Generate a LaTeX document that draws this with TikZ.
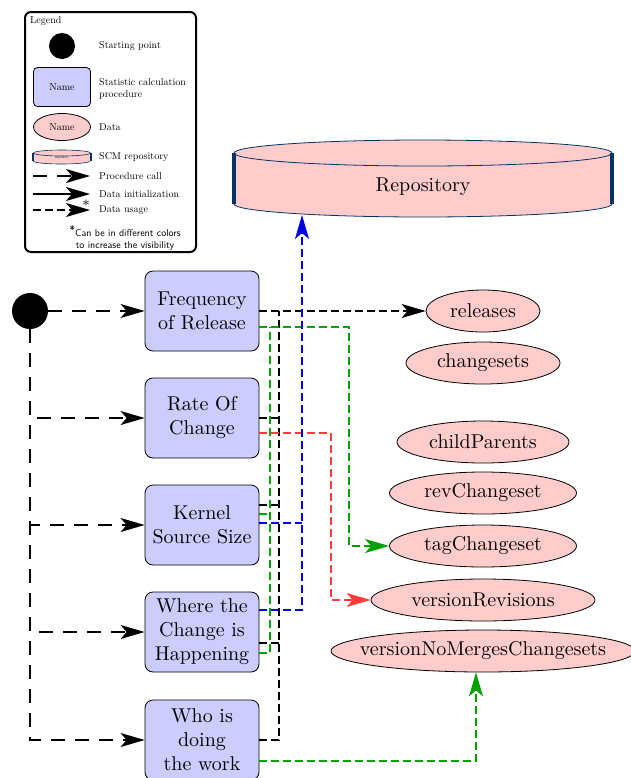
\documentclass[tikz,border=0pt]{standalone}
\usetikzlibrary{arrows.meta,shapes.geometric}

\begin{document}
\begin{tikzpicture}[x=0.5pt,y=-0.5pt,
    proc/.style={draw, rounded corners=4pt, fill=procblue, text width=53pt, align=center, minimum height=40pt, inner sep=2pt},
    data/.style={ellipse, draw, fill=datapink, inner xsep=-8pt, inner ysep=0pt, minimum height=21pt},
    startpt/.style={circle, fill=black, inner sep=0pt},
    call/.style={line width=0.6pt, dash pattern=on 7pt off 5pt, -{Stealth[length=12pt,width=7pt,inset=3pt]}},
    init/.style={line width=0.6pt, -{Stealth[length=12pt,width=7pt,inset=3pt]}},
    uses/.style={line width=0.6pt, dash pattern=on 4pt off 2pt, -{Stealth[length=12pt,width=7pt,inset=3pt]}},
    joins/.style={line width=0.6pt, dash pattern=on 4pt off 2pt},
    legtext/.style={anchor=west, scale=0.5, align=left, inner sep=1pt}]
            \definecolor{procblue}{RGB}{204,204,255}
            \definecolor{datapink}{RGB}{255,204,204}
            \definecolor{repoline}{RGB}{0,51,102}
            \definecolor{usegreen}{RGB}{0,160,0}
            \definecolor{usered}{RGB}{255,60,60}
            \definecolor{useblue}{RGB}{0,0,230}

            \useasboundingbox (0,0) rectangle (631,778);

            % legend
            \draw[line width=1pt, rounded corners=3pt] (25,12) rectangle (196,252);
            \node[legtext] at (29,21) {Legend};
            \node[startpt, minimum size=13pt] (legstart) at (62,46) {};
            \node[draw, rounded corners=2pt, fill=procblue, minimum width=28.5pt, minimum height=19.5pt, inner sep=0pt] (legproc) at (62,87) {\scalebox{0.5}{Name}};
            \node[data, minimum width=28.5pt, minimum height=13.5pt] (legdata) at (62,127) {\scalebox{0.5}{Name}};
            \fill[datapink] (33,153) -- (33,161) arc[start angle=180, end angle=360, x radius=14.25pt, y radius=1.5pt] -- (91,153) -- cycle;
            \draw[repoline, line width=0.3pt] (33,161) arc[start angle=180, end angle=360, x radius=14.25pt, y radius=1.5pt];
            \filldraw[fill=datapink, draw=repoline, line width=0.3pt] (62,153) ellipse [x radius=14.25pt, y radius=1.5pt];
            \draw[repoline, line width=1pt] (33,153) -- (33,161) (91,153) -- (91,161);
            \node[scale=0.15] at (62,158) {Repository};
            \draw[call] (33,176) -- (90,176);
            \draw[init] (33,194) -- (90,194);
            \draw[uses] (33,210) -- (90,210);
            \node[font=\scriptsize] at (86,205) {*};
            \node[legtext] at (98,46) {Starting point};
            \node[legtext] at (98,89) {Statistic calculation\\procedure};
            \node[legtext] at (98,127) {Data};
            \node[legtext] at (98,157) {SCM repository};
            \node[legtext] at (98,176) {Procedure call};
            \node[legtext] at (98,194) {Data initialization};
            \node[legtext] at (98,210) {Data usage};
            \node[scale=0.5, font=\sffamily, align=center] at (125,238) {\raisebox{2pt}{\large *}Can be in different colors\\to increase the visibility};

            % repository
            \fill[datapink] (234,153) -- (234,204) arc[start angle=180, end angle=360, x radius=94.5pt, y radius=6.5pt] -- (612,153) -- cycle;
            \draw[repoline] (234,204) arc[start angle=180, end angle=360, x radius=94.5pt, y radius=6.5pt];
            \filldraw[fill=datapink, draw=repoline] (423,153) ellipse [x radius=94.5pt, y radius=6.5pt];
            \draw[repoline, line width=2pt] (234,153) -- (234,204) (612,153) -- (612,204);
            \node (repo) at (423,187) {Repository};
            \coordinate (repoin) at (302,215);

            % procedures
            \node[startpt, minimum size=18pt] (start) at (30,311) {};
            \node[proc] (freq) at (202,311) {Frequency\\of Release};
            \node[proc] (rate) at (202,418) {Rate Of\\Change};
            \node[proc] (kernel) at (202,525) {Kernel\\Source Size};
            \node[proc] (where) at (202,632) {Where the\\Change is\\Happening};
            \node[proc] (who) at (202,740) {Who is\\doing\\the work};

            % data
            \node[data, minimum width=57pt] (rel) at (483,311) {releases};
            \node[data, minimum width=77pt] (chg) at (483,363) {changesets};
            \node[data, minimum width=86pt] (cp) at (483,442) {childParents};
            \node[data, minimum width=93.5pt] (rev) at (483,493) {revChangeset};
            \node[data, minimum width=93.5pt] (tag) at (483,546) {tagChangeset};
            \node[data, minimum width=112pt] (vrev) at (483,600) {versionRevisions};
            \node[data, minimum width=152pt] (vnm) at (483,651) {versionNoMergesChangesets};

            % buses
            \coordinate (greenbus) at (270,0);
            \coordinate (relbus) at (279,0);
            \coordinate (repobus) at (302,0);
            \coordinate (revbus) at (331,0);
            \coordinate (tagbus) at (349,0);
            \coordinate (gtop) at ([yshift=-8pt]freq.east);
            \coordinate (kblack) at ([yshift=10pt]kernel.east);
            \coordinate (kgreen) at ([yshift=5.5pt]kernel.east);
            \coordinate (kblue) at ([yshift=1pt]kernel.east);
            \coordinate (wblack) at ([yshift=-5.5pt]where.east);

            % procedure calls
            \draw[call] (start) -- (freq);
            \draw[call] (start.south) |- (rate.west);
            \draw[call] (start.south) |- (kernel.west);
            \draw[call] (start.south) |- (where.west);
            \draw[call] (start.south) |- (who.west);

            % data usage
            \draw[uses] (freq.east) -- (rel);
            \draw[joins] (who.east) -| (rel.west -| relbus);
            \draw[joins] (rate.east) -- (rate.east -| relbus);
            \draw[joins] (kblack) -- (kblack -| relbus);
            \draw[joins] (wblack) -- (wblack -| relbus);

            \draw[uses, usegreen] (gtop) -| (tag.west -| tagbus) -- (tag.west);
            \draw[joins, usegreen] ([yshift=-10.5pt]where.east) -| (gtop -| greenbus);
            \draw[joins, usegreen] (kgreen) -- (kgreen -| greenbus);

            \draw[uses, usered] ([yshift=-7.5pt]rate.east) -| (vrev.west -| revbus) -- (vrev.west);

            \draw[uses, useblue] ([yshift=11pt]where.east) -| (repoin);
            \draw[joins, useblue] (kblue) -- (kblue -| repobus);

            \draw[uses, usegreen] ([yshift=-10.5pt]who.east) -| ([xshift=-3.5pt]vnm.south);
\end{tikzpicture}
\end{document}
